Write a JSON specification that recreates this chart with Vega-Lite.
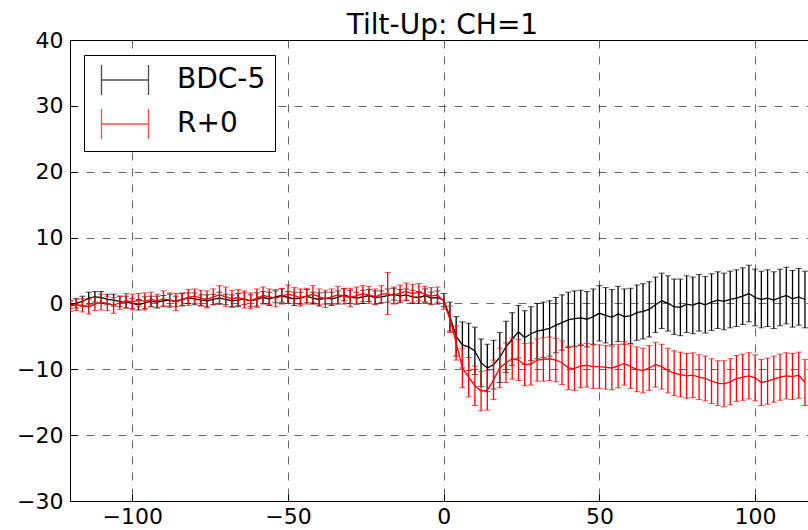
{
  "$schema": "https://vega.github.io/schema/vega-lite/v6.json",
  "width": 739,
  "height": 461,
  "autosize": {"type": "none"},
  "padding": {"left": 70, "top": 40, "right": 0, "bottom": 29},
  "background": "white",
  "config": {
    "font": "DejaVu Sans",
    "view": {"stroke": "black", "strokeWidth": 1},
    "axis": {
      "labelFont": "DejaVu Sans", "labelFontSize": 22, "labelColor": "black",
      "domainColor": "black", "domainWidth": 1, "tickColor": "black", "tickWidth": 1,
      "tickSize": -7, "gridColor": "black", "gridOpacity": 0.6, "gridWidth": 1, "gridDash": [8, 8]
    }
  },
  "title": {"text": "Tilt-Up: CH=1", "fontSize": 28, "font": "DejaVu Sans", "fontWeight": "normal", "color": "black", "baseline": "bottom", "offset": 1, "dx": 3, "dy": 40, "anchor": "middle"},
  "datasets": {
    "bdc": [
      {"x":-120,"series":"BDC-5","mean":-0.2,"err":0.6},{"x":-118,"series":"BDC-5","mean":0.0,"err":0.7},{"x":-116,"series":"BDC-5","mean":0.3,"err":0.8},{"x":-114,"series":"BDC-5","mean":0.8,"err":0.9},{"x":-112,"series":"BDC-5","mean":1.0,"err":0.8},{"x":-110,"series":"BDC-5","mean":0.9,"err":0.9},{"x":-108,"series":"BDC-5","mean":0.6,"err":0.8},{"x":-106,"series":"BDC-5","mean":0.5,"err":0.9},{"x":-104,"series":"BDC-5","mean":0.3,"err":0.8},{"x":-102,"series":"BDC-5","mean":0.2,"err":0.9},
      {"x":-100,"series":"BDC-5","mean":0.0,"err":0.8},{"x":-98,"series":"BDC-5","mean":-0.2,"err":0.8},{"x":-96,"series":"BDC-5","mean":0.1,"err":0.9},{"x":-94,"series":"BDC-5","mean":0.3,"err":0.8},{"x":-92,"series":"BDC-5","mean":0.2,"err":0.9},{"x":-90,"series":"BDC-5","mean":0.4,"err":0.8},{"x":-88,"series":"BDC-5","mean":0.5,"err":0.9},{"x":-86,"series":"BDC-5","mean":0.3,"err":0.8},{"x":-84,"series":"BDC-5","mean":0.6,"err":0.9},{"x":-82,"series":"BDC-5","mean":0.8,"err":0.8},
      {"x":-80,"series":"BDC-5","mean":0.7,"err":0.9},{"x":-78,"series":"BDC-5","mean":0.5,"err":0.8},{"x":-76,"series":"BDC-5","mean":0.4,"err":0.9},{"x":-74,"series":"BDC-5","mean":0.6,"err":0.8},{"x":-72,"series":"BDC-5","mean":0.8,"err":0.9},{"x":-70,"series":"BDC-5","mean":0.6,"err":0.8},{"x":-68,"series":"BDC-5","mean":0.4,"err":0.9},{"x":-66,"series":"BDC-5","mean":0.5,"err":1.0},{"x":-64,"series":"BDC-5","mean":0.7,"err":0.9},{"x":-62,"series":"BDC-5","mean":0.4,"err":0.9},
      {"x":-60,"series":"BDC-5","mean":0.6,"err":1.0},{"x":-58,"series":"BDC-5","mean":0.9,"err":0.9},{"x":-56,"series":"BDC-5","mean":0.7,"err":1.0},{"x":-54,"series":"BDC-5","mean":1.0,"err":0.9},{"x":-52,"series":"BDC-5","mean":1.2,"err":1.0},{"x":-50,"series":"BDC-5","mean":0.9,"err":0.9},{"x":-48,"series":"BDC-5","mean":0.7,"err":1.0},{"x":-46,"series":"BDC-5","mean":0.8,"err":0.9},{"x":-44,"series":"BDC-5","mean":1.1,"err":1.0},{"x":-42,"series":"BDC-5","mean":0.8,"err":0.9},
      {"x":-40,"series":"BDC-5","mean":0.6,"err":1.0},{"x":-38,"series":"BDC-5","mean":0.8,"err":0.9},{"x":-36,"series":"BDC-5","mean":0.7,"err":1.0},{"x":-34,"series":"BDC-5","mean":0.9,"err":1.0},{"x":-32,"series":"BDC-5","mean":1.3,"err":0.9},{"x":-30,"series":"BDC-5","mean":1.0,"err":1.0},{"x":-28,"series":"BDC-5","mean":0.8,"err":0.9},{"x":-26,"series":"BDC-5","mean":1.0,"err":1.0},{"x":-24,"series":"BDC-5","mean":1.2,"err":0.9},{"x":-22,"series":"BDC-5","mean":0.9,"err":1.0},
      {"x":-20,"series":"BDC-5","mean":1.0,"err":0.9},{"x":-18,"series":"BDC-5","mean":1.2,"err":1.0},{"x":-16,"series":"BDC-5","mean":1.4,"err":0.9},{"x":-14,"series":"BDC-5","mean":1.1,"err":1.0},{"x":-12,"series":"BDC-5","mean":1.3,"err":0.9},{"x":-10,"series":"BDC-5","mean":1.0,"err":1.0},{"x":-8,"series":"BDC-5","mean":0.9,"err":0.9},{"x":-6,"series":"BDC-5","mean":1.2,"err":1.0},{"x":-4,"series":"BDC-5","mean":0.8,"err":0.9},{"x":-2,"series":"BDC-5","mean":0.9,"err":1.0},
      {"x":0,"series":"BDC-5","mean":0.5,"err":1.0},{"x":2,"series":"BDC-5","mean":-2.0,"err":2.2},{"x":4,"series":"BDC-5","mean":-5.0,"err":3.0},{"x":6,"series":"BDC-5","mean":-6.3,"err":3.5},{"x":8,"series":"BDC-5","mean":-6.6,"err":3.6},{"x":10,"series":"BDC-5","mean":-7.2,"err":3.6},{"x":12,"series":"BDC-5","mean":-9.0,"err":3.6},{"x":14,"series":"BDC-5","mean":-9.8,"err":3.6},{"x":16,"series":"BDC-5","mean":-9.3,"err":3.7},{"x":18,"series":"BDC-5","mean":-8.2,"err":3.8},
      {"x":20,"series":"BDC-5","mean":-6.6,"err":3.9},{"x":22,"series":"BDC-5","mean":-5.4,"err":4.0},{"x":24,"series":"BDC-5","mean":-4.3,"err":4.0},{"x":26,"series":"BDC-5","mean":-5.2,"err":4.1},{"x":28,"series":"BDC-5","mean":-4.6,"err":4.1},{"x":30,"series":"BDC-5","mean":-4.2,"err":4.2},{"x":32,"series":"BDC-5","mean":-4.0,"err":4.2},{"x":34,"series":"BDC-5","mean":-3.8,"err":4.2},{"x":36,"series":"BDC-5","mean":-3.3,"err":4.2},{"x":38,"series":"BDC-5","mean":-2.9,"err":4.2},
      {"x":40,"series":"BDC-5","mean":-2.5,"err":4.2},{"x":42,"series":"BDC-5","mean":-2.3,"err":4.2},{"x":44,"series":"BDC-5","mean":-2.2,"err":4.2},{"x":46,"series":"BDC-5","mean":-2.4,"err":4.2},{"x":48,"series":"BDC-5","mean":-2.0,"err":4.2},{"x":50,"series":"BDC-5","mean":-1.5,"err":4.2},{"x":52,"series":"BDC-5","mean":-1.8,"err":4.2},{"x":54,"series":"BDC-5","mean":-2.1,"err":4.2},{"x":56,"series":"BDC-5","mean":-1.6,"err":4.2},{"x":58,"series":"BDC-5","mean":-2.0,"err":4.2},
      {"x":60,"series":"BDC-5","mean":-1.9,"err":4.2},{"x":62,"series":"BDC-5","mean":-1.4,"err":4.2},{"x":64,"series":"BDC-5","mean":-1.2,"err":4.2},{"x":66,"series":"BDC-5","mean":-0.9,"err":4.2},{"x":68,"series":"BDC-5","mean":-0.2,"err":4.2},{"x":70,"series":"BDC-5","mean":0.4,"err":4.2},{"x":72,"series":"BDC-5","mean":0.0,"err":4.2},{"x":74,"series":"BDC-5","mean":-0.5,"err":4.2},{"x":76,"series":"BDC-5","mean":-0.6,"err":4.3},{"x":78,"series":"BDC-5","mean":-0.1,"err":4.3},
      {"x":80,"series":"BDC-5","mean":-0.3,"err":4.3},{"x":82,"series":"BDC-5","mean":0.1,"err":4.3},{"x":84,"series":"BDC-5","mean":-0.2,"err":4.3},{"x":86,"series":"BDC-5","mean":0.2,"err":4.3},{"x":88,"series":"BDC-5","mean":0.5,"err":4.3},{"x":90,"series":"BDC-5","mean":0.3,"err":4.3},{"x":92,"series":"BDC-5","mean":0.6,"err":4.3},{"x":94,"series":"BDC-5","mean":0.8,"err":4.3},{"x":96,"series":"BDC-5","mean":1.1,"err":4.3},{"x":98,"series":"BDC-5","mean":1.5,"err":4.3},
      {"x":100,"series":"BDC-5","mean":0.9,"err":4.3},{"x":102,"series":"BDC-5","mean":0.6,"err":4.3},{"x":104,"series":"BDC-5","mean":0.8,"err":4.3},{"x":106,"series":"BDC-5","mean":0.5,"err":4.3},{"x":108,"series":"BDC-5","mean":0.9,"err":4.3},{"x":110,"series":"BDC-5","mean":1.2,"err":4.3},{"x":112,"series":"BDC-5","mean":0.7,"err":4.3},{"x":114,"series":"BDC-5","mean":1.0,"err":4.3},{"x":116,"series":"BDC-5","mean":0.6,"err":4.3}
    ],
    "r0": [
      {"x":-120,"series":"R+0","mean":-0.4,"err":0.8},{"x":-118,"series":"R+0","mean":-0.2,"err":0.9},{"x":-116,"series":"R+0","mean":-0.3,"err":1.0},{"x":-114,"series":"R+0","mean":-0.5,"err":1.1},{"x":-112,"series":"R+0","mean":-0.1,"err":1.0},{"x":-110,"series":"R+0","mean":0.2,"err":1.2},{"x":-108,"series":"R+0","mean":0.0,"err":1.1},{"x":-106,"series":"R+0","mean":-0.3,"err":1.2},{"x":-104,"series":"R+0","mean":0.1,"err":1.0},{"x":-102,"series":"R+0","mean":0.4,"err":1.1},
      {"x":-100,"series":"R+0","mean":0.2,"err":1.2},{"x":-98,"series":"R+0","mean":0.5,"err":1.0},{"x":-96,"series":"R+0","mean":0.3,"err":1.3},{"x":-94,"series":"R+0","mean":0.6,"err":1.1},{"x":-92,"series":"R+0","mean":0.4,"err":1.0},{"x":-90,"series":"R+0","mean":0.7,"err":1.2},{"x":-88,"series":"R+0","mean":0.5,"err":1.1},{"x":-86,"series":"R+0","mean":0.2,"err":1.3},{"x":-84,"series":"R+0","mean":0.6,"err":1.0},{"x":-82,"series":"R+0","mean":0.9,"err":1.2},
      {"x":-80,"series":"R+0","mean":1.1,"err":1.1},{"x":-78,"series":"R+0","mean":0.8,"err":1.2},{"x":-76,"series":"R+0","mean":0.6,"err":1.3},{"x":-74,"series":"R+0","mean":1.0,"err":1.2},{"x":-72,"series":"R+0","mean":1.3,"err":1.4},{"x":-70,"series":"R+0","mean":1.0,"err":1.5},{"x":-68,"series":"R+0","mean":0.7,"err":1.3},{"x":-66,"series":"R+0","mean":0.9,"err":1.2},{"x":-64,"series":"R+0","mean":0.6,"err":1.3},{"x":-62,"series":"R+0","mean":0.4,"err":1.2},
      {"x":-60,"series":"R+0","mean":0.8,"err":1.4},{"x":-58,"series":"R+0","mean":1.2,"err":1.3},{"x":-56,"series":"R+0","mean":1.0,"err":1.2},{"x":-54,"series":"R+0","mean":0.8,"err":1.3},{"x":-52,"series":"R+0","mean":1.1,"err":1.2},{"x":-50,"series":"R+0","mean":1.4,"err":1.4},{"x":-48,"series":"R+0","mean":1.2,"err":1.2},{"x":-46,"series":"R+0","mean":0.9,"err":1.3},{"x":-44,"series":"R+0","mean":1.1,"err":1.2},{"x":-42,"series":"R+0","mean":1.4,"err":1.3},
      {"x":-40,"series":"R+0","mean":1.0,"err":1.2},{"x":-38,"series":"R+0","mean":0.7,"err":1.3},{"x":-36,"series":"R+0","mean":1.0,"err":1.2},{"x":-34,"series":"R+0","mean":1.3,"err":1.3},{"x":-32,"series":"R+0","mean":1.1,"err":1.2},{"x":-30,"series":"R+0","mean":0.9,"err":1.4},{"x":-28,"series":"R+0","mean":1.2,"err":1.3},{"x":-26,"series":"R+0","mean":1.5,"err":1.2},{"x":-24,"series":"R+0","mean":1.3,"err":1.3},{"x":-22,"series":"R+0","mean":1.0,"err":1.2},
      {"x":-20,"series":"R+0","mean":1.4,"err":1.3},{"x":-18,"series":"R+0","mean":1.5,"err":3.2},{"x":-16,"series":"R+0","mean":1.2,"err":1.3},{"x":-14,"series":"R+0","mean":1.6,"err":1.2},{"x":-12,"series":"R+0","mean":1.8,"err":1.3},{"x":-10,"series":"R+0","mean":1.5,"err":1.4},{"x":-8,"series":"R+0","mean":1.7,"err":1.3},{"x":-6,"series":"R+0","mean":1.4,"err":1.2},{"x":-4,"series":"R+0","mean":1.1,"err":1.3},{"x":-2,"series":"R+0","mean":1.3,"err":1.2},
      {"x":0,"series":"R+0","mean":0.3,"err":1.2},{"x":2,"series":"R+0","mean":-2.4,"err":2.0},{"x":4,"series":"R+0","mean":-6.0,"err":2.6},{"x":6,"series":"R+0","mean":-9.8,"err":3.0},{"x":8,"series":"R+0","mean":-11.2,"err":3.0},{"x":10,"series":"R+0","mean":-12.5,"err":3.0},{"x":12,"series":"R+0","mean":-13.3,"err":3.0},{"x":14,"series":"R+0","mean":-13.2,"err":3.0},{"x":16,"series":"R+0","mean":-11.6,"err":3.0},{"x":18,"series":"R+0","mean":-9.8,"err":3.0},
      {"x":20,"series":"R+0","mean":-9.0,"err":3.0},{"x":22,"series":"R+0","mean":-8.4,"err":3.1},{"x":24,"series":"R+0","mean":-8.6,"err":3.1},{"x":26,"series":"R+0","mean":-9.3,"err":3.2},{"x":28,"series":"R+0","mean":-9.2,"err":3.2},{"x":30,"series":"R+0","mean":-8.6,"err":3.2},{"x":32,"series":"R+0","mean":-8.5,"err":3.3},{"x":34,"series":"R+0","mean":-8.4,"err":3.3},{"x":36,"series":"R+0","mean":-8.6,"err":3.3},{"x":38,"series":"R+0","mean":-9.0,"err":3.3},
      {"x":40,"series":"R+0","mean":-9.8,"err":3.3},{"x":42,"series":"R+0","mean":-9.9,"err":3.3},{"x":44,"series":"R+0","mean":-9.5,"err":3.3},{"x":46,"series":"R+0","mean":-9.4,"err":3.3},{"x":48,"series":"R+0","mean":-9.6,"err":3.3},{"x":50,"series":"R+0","mean":-9.6,"err":3.3},{"x":52,"series":"R+0","mean":-9.7,"err":3.3},{"x":54,"series":"R+0","mean":-9.8,"err":3.3},{"x":56,"series":"R+0","mean":-9.5,"err":3.3},{"x":58,"series":"R+0","mean":-9.1,"err":3.3},
      {"x":60,"series":"R+0","mean":-9.6,"err":3.3},{"x":62,"series":"R+0","mean":-10.0,"err":3.4},{"x":64,"series":"R+0","mean":-10.2,"err":3.4},{"x":66,"series":"R+0","mean":-9.8,"err":3.4},{"x":68,"series":"R+0","mean":-9.3,"err":3.4},{"x":70,"series":"R+0","mean":-9.6,"err":3.4},{"x":72,"series":"R+0","mean":-10.2,"err":3.4},{"x":74,"series":"R+0","mean":-10.6,"err":3.4},{"x":76,"series":"R+0","mean":-10.8,"err":3.4},{"x":78,"series":"R+0","mean":-11.0,"err":3.4},
      {"x":80,"series":"R+0","mean":-10.9,"err":3.4},{"x":82,"series":"R+0","mean":-11.2,"err":3.4},{"x":84,"series":"R+0","mean":-11.4,"err":3.4},{"x":86,"series":"R+0","mean":-11.8,"err":3.4},{"x":88,"series":"R+0","mean":-12.1,"err":3.4},{"x":90,"series":"R+0","mean":-12.2,"err":3.5},{"x":92,"series":"R+0","mean":-11.9,"err":3.5},{"x":94,"series":"R+0","mean":-11.4,"err":3.5},{"x":96,"series":"R+0","mean":-11.2,"err":3.5},{"x":98,"series":"R+0","mean":-11.0,"err":3.5},
      {"x":100,"series":"R+0","mean":-11.3,"err":3.5},{"x":102,"series":"R+0","mean":-12.0,"err":3.5},{"x":104,"series":"R+0","mean":-11.8,"err":3.5},{"x":106,"series":"R+0","mean":-11.5,"err":3.5},{"x":108,"series":"R+0","mean":-11.2,"err":3.5},{"x":110,"series":"R+0","mean":-11.0,"err":3.5},{"x":112,"series":"R+0","mean":-11.1,"err":3.5},{"x":114,"series":"R+0","mean":-10.9,"err":3.5},{"x":116,"series":"R+0","mean":-12.0,"err":3.5}
    ]
  },
  "encoding": {
    "x": {"field": "x", "type": "quantitative", "title": null, "scale": {"domain": [-120, 117.3], "nice": false, "zero": false},
      "axis": {"values": [-100, -50, 0, 50, 100], "labelPadding": 12, "grid": true, "title": null}},
    "y": {"field": "mean", "type": "quantitative", "title": null, "scale": {"domain": [-30, 40], "nice": false, "zero": false},
      "axis": {"values": [-30, -20, -10, 0, 10, 20, 30, 40], "labelPadding": 14, "grid": true, "title": null}},
    "color": {"field": "series", "type": "nominal",
      "scale": {"domain": ["BDC-5", "R+0"], "range": ["#000000", "#ff0000"]},
      "legend": {"orient": "none", "legendX": 14, "legendY": 15, "title": null,
        "symbolType": "M-1.567,-1L-1.567,1M-1.567,0L1.567,0M1.567,-1L1.567,1",
        "symbolSize": 900, "symbolStrokeWidth": 1.3, "symbolOffset": 16, "labelOffset": 36,
        "labelFont": "DejaVu Sans", "labelFontSize": 28, "labelColor": "black", "labelLimit": 400,
        "padding": 9, "rowPadding": 8, "strokeColor": "black", "fillColor": "white", "cornerRadius": 0}}
  },
  "layer": [
    {
      "data": {"name": "bdc"},
      "mark": {"type": "line", "strokeWidth": 1.3, "clip": true}
    },
    {
      "data": {"name": "bdc"},
      "mark": {"type": "errorbar", "ticks": {"size": 6}, "rule": {"strokeWidth": 1.3}, "clip": true},
      "encoding": {"yError": {"field": "err"}}
    },
    {
      "data": {"name": "r0"},
      "mark": {"type": "line", "strokeWidth": 1.3, "clip": true}
    },
    {
      "data": {"name": "r0"},
      "mark": {"type": "errorbar", "ticks": {"size": 6}, "rule": {"strokeWidth": 1.3}, "clip": true},
      "encoding": {"yError": {"field": "err"}}
    }
  ]
}
